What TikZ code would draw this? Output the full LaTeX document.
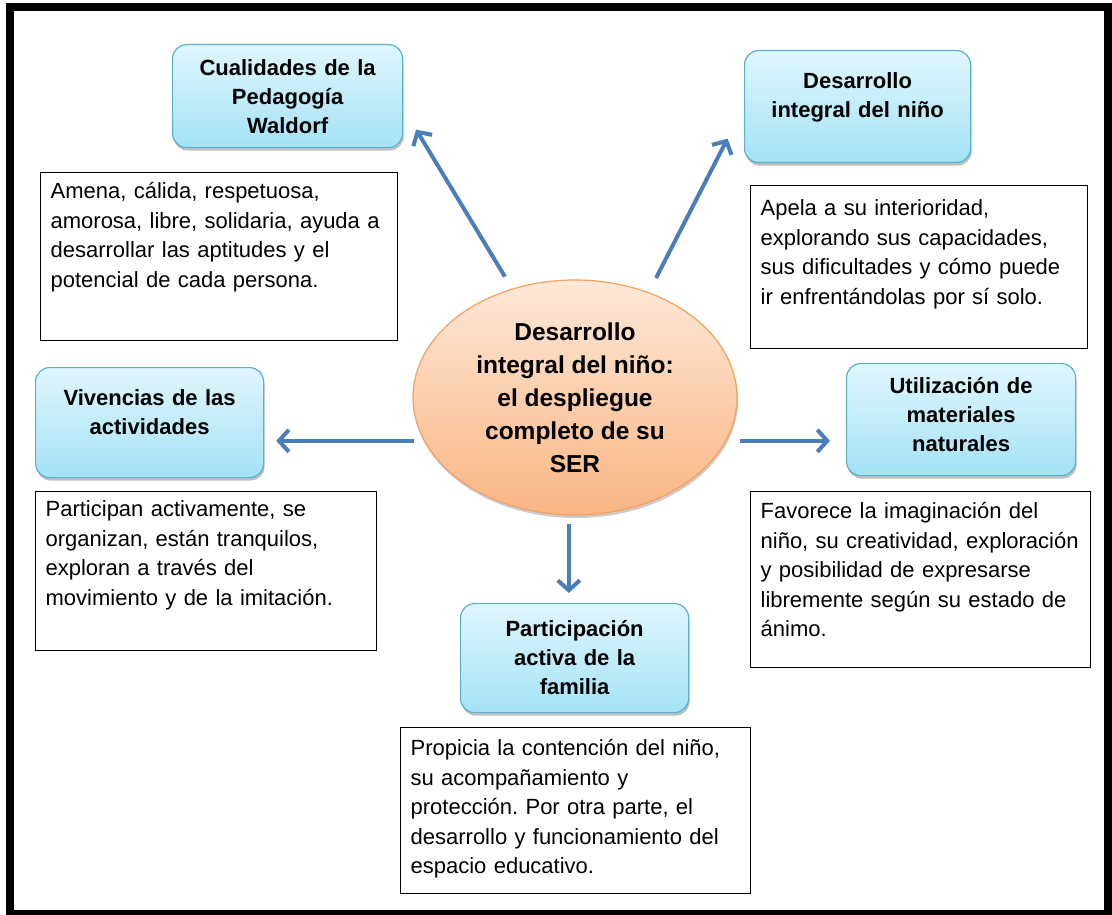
\documentclass[tikz,border=0pt]{standalone}
\usepackage{fontspec}
\setmainfont{Liberation Sans}
\usetikzlibrary{shapes.geometric,shadows,arrows.meta}
\frenchspacing

\definecolor{arrowblue}{HTML}{4A7EBB}
\definecolor{topicline}{HTML}{5AB2CE}
\definecolor{topictop}{HTML}{E0F6FC}
\definecolor{topicbottom}{HTML}{A4E2F6}
\definecolor{coreline}{HTML}{F5A15C}
\definecolor{coretop}{HTML}{FDE8D8}
\definecolor{corebottom}{HTML}{FAB583}

\tikzstyle{topic} = [rectangle, draw=topicline, line width=1.2pt, rounded corners=14pt,
     top color=topictop, bottom color=topicbottom, text centered, anchor=north west,
     inner xsep=6pt, inner ysep=0pt, font=\fontsize{22}{29}\selectfont\bfseries,
     drop shadow={shadow xshift=1pt, shadow yshift=-3pt, fill=black, opacity=.25}]
\tikzstyle{note} = [rectangle, draw, line width=1.3pt, fill=white, align=left, anchor=north west,
     inner xsep=10pt, inner ysep=0pt, font=\fontsize{22}{29.5}\selectfont]
\tikzstyle{core} = [ellipse, draw=coreline, line width=1.2pt, top color=coretop, bottom color=corebottom,
     align=center, inner sep=0pt, font=\fontsize{24.5}{33}\selectfont\bfseries,
     drop shadow={shadow xshift=1pt, shadow yshift=-3pt, fill=black, opacity=.2}]
\tikzstyle{line} = [draw, -{Straight Barb[length=10pt,width=22pt]}, line width=4pt, arrowblue]

\begin{document}
\begin{tikzpicture}[x=1pt, y=-1pt]
    \useasboundingbox (0,0) rectangle (1112,915);
    \draw [line width=8pt] (10,7.5) rectangle (1108,914);

    % Place nodes
    \node [core, minimum width=324pt, minimum height=235pt] (ser) at (575,397.5)
        {Desarrollo\\ integral del niño:\\ el despliegue\\ completo de su\\ SER};

    \node [topic, text width=218pt, text height=31pt, text depth=72pt] (cualidades) at (172,44)
        {Cualidades de la\\ Pedagogía\\ Waldorf};
    \node [topic, text width=214pt, text height=38pt, text depth=74pt] (desarrollo) at (744,50)
        {Desarrollo\\ integral del niño};
    \node [topic, text width=216pt, text height=38pt, text depth=72pt] (vivencias) at (35,367)
        {Vivencias de las\\ actividades};
    \node [topic, text width=217pt, text height=30pt, text depth=82pt] (utilizacion) at (846,363)
        {Utilización de\\ materiales\\ naturales};
    \node [topic, text width=216pt, text height=33pt, text depth=76pt] (participacion) at (460,603)
        {Participación\\ activa de la\\ familia};

    \node [note, text width=337pt, text height=26pt, text depth=142pt] (cualidades_txt) at (40,172)
        {Amena, cálida, respetuosa,\\ amorosa, libre, solidaria, ayuda a\\ desarrollar las aptitudes y el\\ potencial de cada persona.};
    \node [note, text width=317pt, text height=30pt, text depth=133pt] (desarrollo_txt) at (750,185)
        {Apela a su interioridad,\\ explorando sus capacidades,\\ sus dificultades y cómo puede\\ ir enfrentándolas por sí solo.};
    \node [note, text width=321pt, text height=25pt, text depth=134pt] (vivencias_txt) at (35,491)
        {Participan activamente, se\\ organizan, están tranquilos,\\ exploran a través del\\ movimiento y de la imitación.};
    \node [note, text width=320pt, text height=27pt, text depth=149pt] (utilizacion_txt) at (750,491)
        {Favorece la imaginación del\\ niño, su creatividad, exploración\\ y posibilidad de expresarse\\ libremente según su estado de\\ ánimo.};
    \node [note, text width=330pt, text height=28pt, text depth=138pt] (participacion_txt) at (400,727)
        {Propicia la contención del niño,\\ su acompañamiento y\\ protección. Por otra parte, el\\ desarrollo y funcionamiento del\\ espacio educativo.};

    % Draw edges
    \path [line, shorten <=14pt, shorten >=25pt] (ser.120) -- (cualidades.354);
    \path [line, shorten <=16pt, shorten >=36pt] (ser.55.4) -- (desarrollo.west);
    \path [line, shorten <=10pt, shorten >=12pt] (ser.196.5) -- (ser.196.5 -| vivencias.east);
    \path [line, shorten <=14pt, shorten >=16pt] (ser.344.3) -- (ser.344.3 -| utilizacion.west);
    \path [line, shorten <=8pt, shorten >=10pt] (ser.267.5) -- (ser.267.5 |- participacion.north);

\end{tikzpicture}
\end{document}
